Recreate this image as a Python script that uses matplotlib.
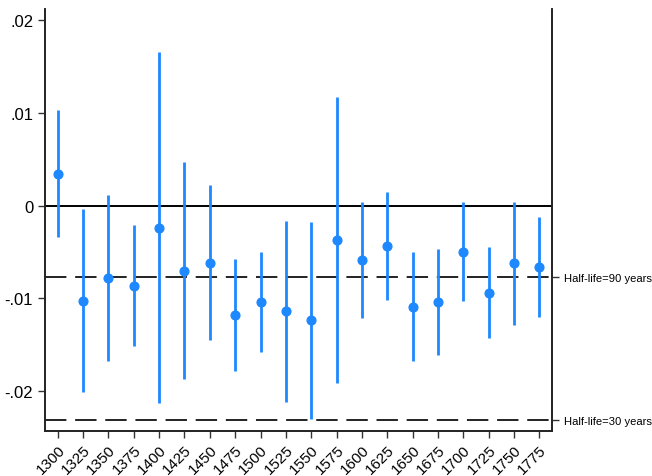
import matplotlib.pyplot as plt
import numpy as np

plt.rcParams['font.family'] = ['Liberation Sans', 'DejaVu Sans']

# half-century cohorts, 25-year steps
years = [1300, 1325, 1350, 1375, 1400, 1425, 1450, 1475, 1500, 1525,
         1550, 1575, 1600, 1625, 1650, 1675, 1700, 1725, 1750, 1775]
coef = [0.00345, -0.01024, -0.0078, -0.00865, -0.00244, -0.00704, -0.00614,
        -0.01181, -0.01038, -0.01142, -0.01235, -0.00373, -0.00588, -0.00434,
        -0.01092, -0.01041, -0.00496, -0.00938, -0.00621, -0.00664]
ci_hi = [0.0103, -0.00036, 0.00115, -0.00208, 0.01653, 0.00468, 0.00226,
         -0.00578, -0.00499, -0.00165, -0.00179, 0.01168, 0.00037, 0.00151,
         -0.00502, -0.00467, 0.00037, -0.00448, 0.00037, -0.0012]
ci_lo = [-0.0034, -0.0201, -0.01677, -0.01512, -0.0213, -0.01875, -0.01455,
         -0.01789, -0.01577, -0.02119, -0.0230, -0.01914, -0.01213, -0.01016,
         -0.01681, -0.01616, -0.01024, -0.01433, -0.01286, -0.01203]

half_life_vals = [np.log(0.5) / 90, np.log(0.5) / 30]
half_life_labels = ["Half-life=90 years", "Half-life=30 years"]

y_ticks = [0.02, 0.01, 0, -0.01, -0.02]
y_labels = [".02", ".01", "0", "-.01", "-.02"]

blue = "#1E88FF"

fig = plt.figure(figsize=(6.52, 4.77), dpi=100)
ax = fig.add_axes([45 / 652, 1 - 432 / 477, (552 - 45) / 652, (432 - 10) / 477])

ax.axhline(0, color="black", lw=1.4, zorder=1)
for v in half_life_vals:
    ax.axhline(v, color="#222222", lw=1.4, dashes=(11, 4.5), zorder=1,
               clip_on=False)

ax.vlines(years, ci_lo, ci_hi, color=blue, lw=2, zorder=2)
ax.plot(years, coef, "o", color=blue, ms=6.3, zorder=3)

ax.set_xlim(1287.5, 1787.4)
ax.set_ylim(-0.02431, 0.0212)

ax.set_xticks(years)
ax.set_xticklabels([str(y) for y in years], rotation=45, ha="right",
                   rotation_mode="anchor", fontsize=11)
ax.set_yticks(y_ticks)
ax.set_yticklabels(y_labels, fontsize=12)
ax.tick_params(axis="both", direction="out", length=5, width=1, color="#333333")
ax.tick_params(axis="x", pad=3)

# right axis carries the half-life reference labels
ax2 = ax.twinx()
ax2.set_ylim(ax.get_ylim())
ax2.set_yticks(half_life_vals)
ax2.set_yticklabels(half_life_labels, fontsize=8.1)
ax2.tick_params(axis="y", direction="out", length=5, width=1, color="#333333", pad=3.5)

for a in (ax, ax2):
    a.spines["top"].set_visible(False)
    for s in ("left", "right", "bottom"):
        a.spines[s].set_color("#222222")
        a.spines[s].set_linewidth(1.2)

fig.savefig("out.png", dpi=100)
